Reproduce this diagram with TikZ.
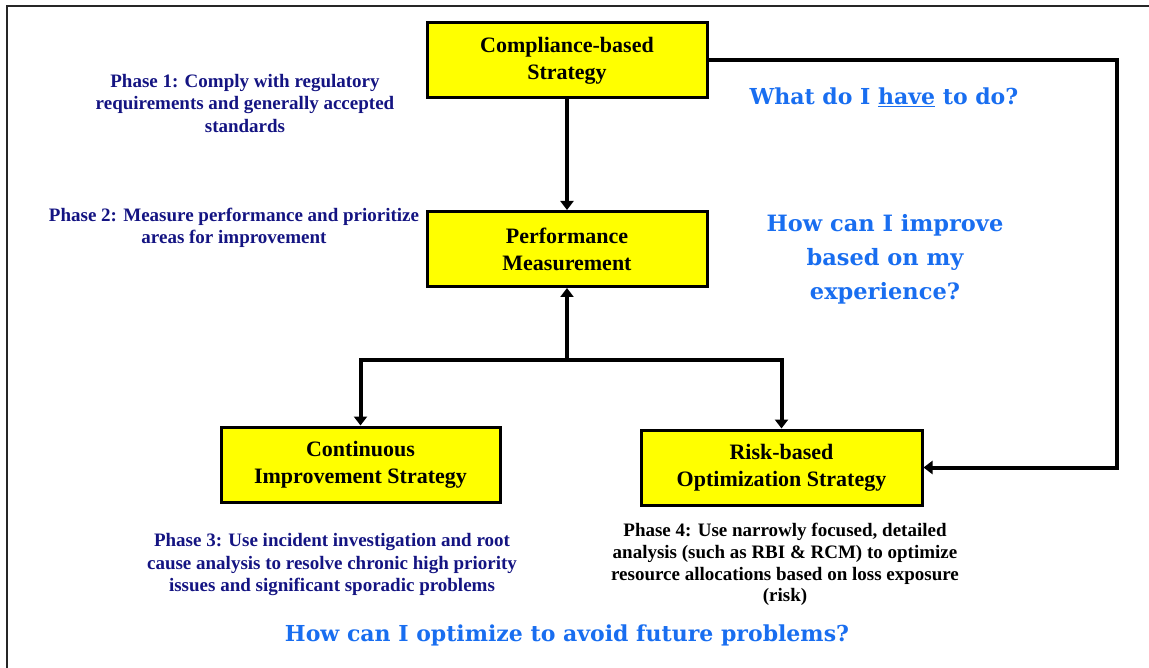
\documentclass[tikz,border=0pt]{standalone}
\usepackage{fontspec}
\setmainfont{Liberation Serif}
\newfontfamily\qfont{DejaVu Serif}
\usetikzlibrary{arrows.meta}
\definecolor{boxyellow}{RGB}{255,255,0}
\definecolor{navytext}{RGB}{20,20,130}
\definecolor{qblue}{RGB}{25,110,240}
\begin{document}
\begin{tikzpicture}[x=1pt,y=-1pt,
  stratbox/.style={draw=black,line width=3pt,fill=boxyellow,minimum width=280pt,minimum height=75pt,
    align=center,font=\bfseries\fontsize{22}{27}\selectfont,inner sep=0pt},
  phasetext/.style={align=center,font=\bfseries\fontsize{19}{22.5}\selectfont,inner sep=0pt},
  question/.style={align=center,text=qblue,font=\qfont\bfseries\fontsize{22}{34}\selectfont,inner sep=0pt},
  conn/.style={line width=4pt,-{Triangle[length=9pt,width=13pt]}},
  frameline/.style={line width=2pt,draw=black!85}]
\useasboundingbox (0,0) rectangle (1149,668);
\draw[frameline] (7,668) -- (7,6) -- (1149,6);

\node[stratbox] (b1) at (567,60.5) {Compliance-based\\Strategy};
\node[stratbox] (b2) at (567,249) {Performance\\Measurement};
\node[stratbox,minimum width=279pt] (b3) at (360.5,464.5) {Continuous\\Improvement Strategy};
\node[stratbox,minimum width=281pt] (b4) at (781.5,467.5) {Risk-based\\Optimization Strategy};

\coordinate (j) at (567,360);
\coordinate (rc) at (1117,60.5);

\draw[conn] (b1) -- (b2);
\draw[conn] (j) -- (b2.south);
\draw[conn] (j) -| (b3.north);
\draw[conn] (j) -| (b4.north);
\draw[conn,line join=miter] (b1.east) -- (rc) |- (b4.east);

\node[phasetext,text=navytext] (p1) at (245,103.5) {Phase 1: Comply with regulatory\\requirements and generally accepted\\standards};
\node[phasetext,text=navytext] (p2) at (234,228) {Phase 2: Measure performance and prioritize\\areas for improvement};
\node[phasetext,text=navytext] (p3) at (332,565) {Phase 3: Use incident investigation and root\\cause analysis to resolve chronic high priority\\issues and significant sporadic problems};
\node[phasetext,text=black,font=\bfseries\fontsize{19}{21.7}\selectfont] (p4) at (785,564.5) {Phase 4: Use narrowly focused, detailed\\analysis (such as RBI \& RCM) to optimize\\resource allocations based on loss exposure\\(risk)};

\node[question] (q1) at (884,97) {What do I \underline{have} to do?};
\node[question,font=\qfont\bfseries\fontsize{22.5}{34}\selectfont] (q2) at (885,259) {How can I improve\\based on my\\experience?};
\node[question] (q3) at (567,635) {How can I optimize to avoid future problems?};
\end{tikzpicture}
\end{document}
